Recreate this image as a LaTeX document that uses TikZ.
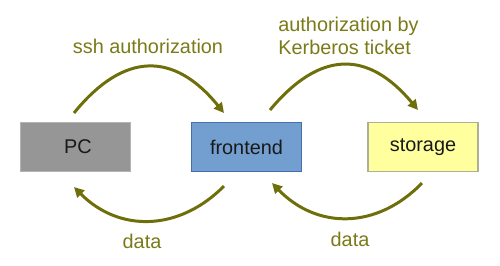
\documentclass[tikz,border=0pt]{standalone}
\usepackage{fontspec}
\setmainfont{Liberation Sans}
\usetikzlibrary{arrows.meta}
\definecolor{flowcol}{RGB}{110,110,10}
\definecolor{labelcol}{RGB}{122,122,24}
\definecolor{pcfill}{RGB}{150,150,150}
\definecolor{pcline}{RGB}{180,180,180}
\definecolor{fefill}{RGB}{114,159,207}
\definecolor{feline}{RGB}{70,110,170}
\definecolor{stfill}{RGB}{255,255,158}
\definecolor{stline}{RGB}{175,175,150}
\newcommand{\txt}{\fontsize{11.3}{13}\selectfont}
\tikzset{
  box/.style={minimum width=2.2cm, minimum height=0.98cm, inner sep=0pt, line width=0.6pt, font=\txt, text=black!90},
  flow/.style={-{Triangle[length=0.2cm,width=0.2cm]}, line width=1.7pt, color=flowcol},
  lbl/.style={text=labelcol, font=\txt, inner sep=0pt}
}
\begin{document}
\begin{tikzpicture}
			\useasboundingbox (0,0) rectangle (10,5.3);
			% boxes
			\node[box,fill=pcfill,draw=pcline] (pc) at (1.51,2.36) {\hspace{0.1cm}PC};
			\node[box,fill=fefill,draw=feline] (fe) at (4.93,2.36) {frontend\hspace{0.1cm}};
			\node[box,fill=stfill,draw=stline] (st) at (8.46,2.36) {storage\hspace{0.1cm}};
			% pc <-> frontend
			\draw[flow] ([xshift=-0.03cm,yshift=0.18cm]pc.north) .. controls +(1.0,1.23) and +(-1.0,1.23) .. ([xshift=-0.45cm,yshift=0.18cm]fe.north);
			\draw[flow] ([xshift=-0.45cm,yshift=-0.28cm]fe.south) .. controls +(-0.9,-0.91) and +(0.9,-0.91) .. ([xshift=-0.03cm,yshift=-0.3cm]pc.south);
			\node[lbl] (ssh) at (2.96,4.38) {ssh authorization};
			\node[lbl] (data1) at (2.84,0.48) {data};
			% frontend <-> storage
			\draw[flow] ([xshift=0.47cm,yshift=0.24cm]fe.north) .. controls +(1.0,1.2) and +(-1.0,1.2) .. ([xshift=-0.1cm,yshift=0.24cm]st.north);
			\draw[flow] ([xshift=-0.02cm,yshift=-0.22cm]st.south) .. controls +(-0.9,-0.93) and +(0.9,-0.93) .. ([xshift=0.51cm,yshift=-0.22cm]fe.south);
			\node[lbl,anchor=west,align=left] (krb) at (5.56,4.59) {authorization by\\Kerberos ticket};
			\node[lbl] (data2) at (7.0,0.52) {data};
		\end{tikzpicture}
\end{document}
